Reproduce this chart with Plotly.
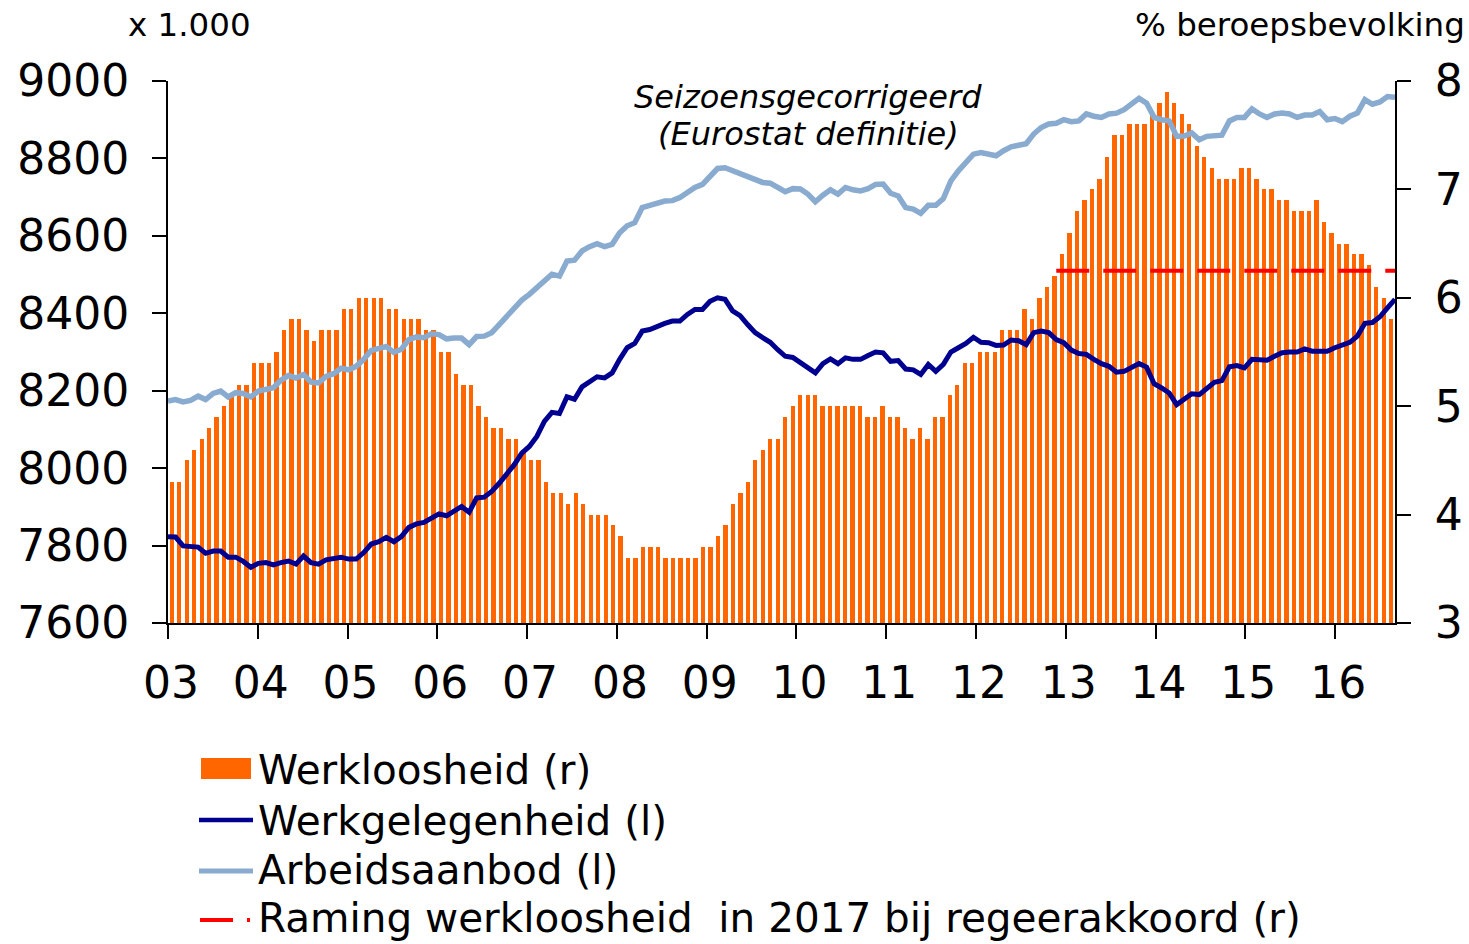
import numpy as np
import plotly.graph_objects as go

# ---------------- data (monthly, Jan 2003 - Aug 2016) ----------------
year_labels = ["03", "04", "05", "06", "07", "08", "09", "10", "11", "12", "13", "14", "15", "16"]

# Werkloosheid, % beroepsbevolking (right axis)
werkloosheid = [
    4.3, 4.3, 4.5, 4.6, 4.7, 4.8, 4.9, 5.0, 5.1, 5.2, 5.2, 5.4,
    5.4, 5.4, 5.5, 5.7, 5.8, 5.8, 5.7, 5.6, 5.7, 5.7, 5.7, 5.9,
    5.9, 6.0, 6.0, 6.0, 6.0, 5.9, 5.9, 5.8, 5.8, 5.8, 5.7, 5.7,
    5.5, 5.5, 5.3, 5.2, 5.2, 5.0, 4.9, 4.8, 4.8, 4.7, 4.7, 4.6,
    4.5, 4.5, 4.3, 4.2, 4.2, 4.1, 4.2, 4.1, 4.0, 4.0, 4.0, 3.9,
    3.8, 3.6, 3.6, 3.7, 3.7, 3.7, 3.6, 3.6, 3.6, 3.6, 3.6, 3.7,
    3.7, 3.8, 3.9, 4.1, 4.2, 4.3, 4.5, 4.6, 4.7, 4.7, 4.9, 5.0,
    5.1, 5.1, 5.1, 5.0, 5.0, 5.0, 5.0, 5.0, 5.0, 4.9, 4.9, 5.0,
    4.9, 4.9, 4.8, 4.7, 4.8, 4.7, 4.9, 4.9, 5.1, 5.2, 5.4, 5.4,
    5.5, 5.5, 5.5, 5.7, 5.7, 5.7, 5.9, 5.8, 6.0, 6.1, 6.2, 6.4,
    6.6, 6.8, 6.9, 7.0, 7.1, 7.3, 7.5, 7.5, 7.6, 7.6, 7.6, 7.7,
    7.8, 7.9, 7.8, 7.7, 7.6, 7.4, 7.3, 7.2, 7.1, 7.1, 7.1, 7.2,
    7.2, 7.1, 7.0, 7.0, 6.9, 6.9, 6.8, 6.8, 6.8, 6.9, 6.7, 6.6,
    6.5, 6.5, 6.4, 6.4, 6.3, 6.1, 6.0, 5.8,
]

# Werkgelegenheid, x 1.000 (left axis)
werkgelegenheid = [
    7823, 7822, 7799, 7796, 7796, 7780, 7786, 7786, 7770, 7770, 7759, 7744,
    7754, 7756, 7750, 7756, 7760, 7752, 7773, 7756, 7752, 7763, 7765, 7770,
    7765, 7765, 7782, 7804, 7810, 7821, 7810, 7823, 7847, 7856, 7860, 7871,
    7882, 7877, 7890, 7901, 7886, 7923, 7925, 7940, 7961, 7983, 8009, 8039,
    8056, 8082, 8121, 8144, 8141, 8184, 8178, 8210, 8222, 8236, 8233, 8246,
    8281, 8311, 8322, 8354, 8358, 8367, 8374, 8380, 8380, 8397, 8410, 8410,
    8431, 8440, 8436, 8406, 8394, 8371, 8350, 8337, 8325, 8306, 8289, 8286,
    8272, 8259, 8246, 8270, 8282, 8270, 8285, 8281, 8281, 8291, 8300, 8298,
    8276, 8278, 8256, 8254, 8242, 8268, 8250, 8268, 8300, 8311, 8322, 8338,
    8325, 8324, 8317, 8318, 8331, 8329, 8319, 8350, 8354, 8350, 8332, 8324,
    8305, 8296, 8294, 8281, 8270, 8263, 8248, 8250, 8259, 8270, 8261, 8218,
    8207, 8194, 8164, 8177, 8192, 8190, 8207, 8222, 8226, 8262, 8265, 8259,
    8281, 8281, 8279, 8289, 8298, 8300, 8300, 8308, 8302, 8302, 8302, 8311,
    8319, 8325, 8341, 8374, 8376, 8391, 8414, 8436,
]

# Arbeidsaanbod, x 1.000 (left axis)
arbeidsaanbod = [
    8173, 8177, 8171, 8175, 8186, 8177, 8193, 8199, 8184, 8195, 8193, 8184,
    8199, 8205, 8208, 8227, 8239, 8233, 8242, 8222, 8220, 8237, 8244, 8258,
    8254, 8263, 8281, 8304, 8309, 8314, 8299, 8307, 8332, 8339, 8337, 8347,
    8345, 8334, 8336, 8336, 8319, 8340, 8341, 8350, 8371, 8393, 8417, 8434,
    8449, 8466, 8483, 8501, 8496, 8535, 8537, 8561, 8572, 8580, 8572, 8578,
    8608, 8626, 8634, 8673, 8679, 8686, 8690, 8691, 8699, 8712, 8725, 8733,
    8755, 8774, 8776, 8768, 8763, 8755, 8746, 8738, 8736, 8725, 8714, 8722,
    8721, 8708, 8688, 8705, 8719, 8708, 8725, 8719, 8716, 8722, 8733, 8734,
    8710, 8703, 8673, 8669, 8658, 8679, 8679, 8696, 8742, 8768, 8791, 8811,
    8815, 8811, 8807, 8820, 8830, 8834, 8838, 8863, 8880, 8889, 8891, 8900,
    8895, 8897, 8915, 8909, 8906, 8915, 8917, 8926, 8940, 8955, 8943, 8906,
    8900, 8897, 8857, 8858, 8866, 8848, 8857, 8860, 8860, 8897, 8906, 8906,
    8928, 8915, 8906, 8915, 8917, 8915, 8906, 8912, 8912, 8921, 8900, 8903,
    8895, 8909, 8917, 8952, 8940, 8946, 8960, 8958,
]

# Raming werkloosheid in 2017 bij regeerakkoord (r): from Nov 2012 onward
raming_start = 118
raming_value = 6.25

# ---------------- positions ----------------
n = len(werkloosheid)
month_idx = np.arange(n)
bar_x = month_idx + 0.5                      # category centres
line_x = month_idx * n / (n - 1)             # lines span edge to edge
year_ticks = np.arange(0, n, 12)

ORANGE = "#FF6600"
NAVY = "#000090"
LIGHTBLUE = "#89ABCF"
RED = "#FF0000"
FONT = "DejaVu Sans"

fig = go.Figure()

fig.add_trace(go.Bar(
    x=bar_x, y=werkloosheid, width=0.58,
    marker=dict(color=ORANGE, line=dict(width=0)),
    name="Werkloosheid (r)", yaxis="y",
))

raming_x = line_x[raming_start:]
fig.add_trace(go.Scatter(
    x=raming_x, y=[raming_value] * len(raming_x), mode="lines",
    line=dict(color=RED, width=4, dash="33px,14px"),
    name="Raming werkloosheid  in 2017 bij regeerakkoord (r)", yaxis="y",
))

fig.add_trace(go.Scatter(
    x=line_x, y=arbeidsaanbod, mode="lines",
    line=dict(color=LIGHTBLUE, width=5.5),
    name="Arbeidsaanbod (l)", yaxis="y2",
))
fig.add_trace(go.Scatter(
    x=line_x, y=werkgelegenheid, mode="lines",
    line=dict(color=NAVY, width=5),
    name="Werkgelegenheid (l)", yaxis="y2",
))

axis_common = dict(
    showgrid=False, zeroline=False, showline=True, linecolor="black", linewidth=2,
    ticks="outside", ticklen=14, tickwidth=2, tickcolor="black", automargin=False,
    tickfont=dict(family=FONT, size=44, color="black"),
)

fig.update_layout(
    width=1469, height=944,
    margin=dict(l=168, r=74, t=81, b=321),
    paper_bgcolor="white", plot_bgcolor="white",
    showlegend=False, bargap=0,
    font=dict(family=FONT, color="black"),
    xaxis=dict(range=[0, n], tickvals=year_ticks, ticktext=year_labels,
               ticklabelstandoff=6, ticklabelshift=3, **axis_common),
    yaxis=dict(range=[3, 8], side="right", tickvals=[3, 4, 5, 6, 7, 8],
               ticklabelstandoff=15, **axis_common),
    yaxis2=dict(range=[7600, 9000], side="left", overlaying="y",
                tickvals=list(range(7600, 9001, 200)),
                ticklabelstandoff=14, **axis_common),
)

# ---------- helper: pixel -> paper coordinates ----------
PL, PW, PB, PH = 168, 1469 - 168 - 74, 944 - 321, 944 - 81 - 321
def px(x):
    return (x - PL) / PW
def py(y):
    return (PB - y) / PH

small = dict(family=FONT, size=32.5, color="black")
fig.add_annotation(text="x 1.000", xref="paper", yref="paper", x=px(126), y=py(25),
                   xanchor="left", yanchor="middle", showarrow=False, font=small)
fig.add_annotation(text="% beroepsbevolking", xref="paper", yref="paper", x=px(1467), y=py(25),
                   xanchor="right", yanchor="middle", showarrow=False, font=small)
ital = dict(family=FONT, size=32, color="black", style="italic")
fig.add_annotation(text="Seizoensgecorrigeerd", xref="paper", yref="paper", x=px(808), y=py(97),
                   xanchor="center", yanchor="middle", showarrow=False, font=ital)
fig.add_annotation(text="(Eurostat definitie)", xref="paper", yref="paper", x=px(808), y=py(134),
                   xanchor="center", yanchor="middle", showarrow=False, font=ital)

# ---------- legend (drawn manually to match symbol sizes) ----------
leg_font = dict(family=FONT, size=40.5, color="black")
legend_items = [
    ("Werkloosheid (r)", 770),
    ("Werkgelegenheid (l)", 821),
    ("Arbeidsaanbod (l)", 870),
    ("Raming werkloosheid\u00a0 in 2017 bij regeerakkoord (r)", 918),
]
for label, yc in legend_items:
    fig.add_annotation(text=label, xref="paper", yref="paper", x=px(256), y=py(yc),
                       xanchor="left", yanchor="middle", showarrow=False, font=leg_font)

fig.add_shape(type="rect", xref="paper", yref="paper", x0=px(201), x1=px(251),
              y0=py(779), y1=py(758), fillcolor=ORANGE, line=dict(width=0))
fig.add_shape(type="line", xref="paper", yref="paper", x0=px(199), x1=px(253),
              y0=py(820), y1=py(820), line=dict(color=NAVY, width=4.5))
fig.add_shape(type="line", xref="paper", yref="paper", x0=px(199), x1=px(253),
              y0=py(871), y1=py(871), line=dict(color=LIGHTBLUE, width=5))
fig.add_shape(type="line", xref="paper", yref="paper", x0=px(200), x1=px(250),
              y0=py(920), y1=py(920), line=dict(color=RED, width=4, dash="33px,14px"))

fig.write_html("out.html", config={"displayModeBar": False},
               post_script="document.body.style.margin='0';")
